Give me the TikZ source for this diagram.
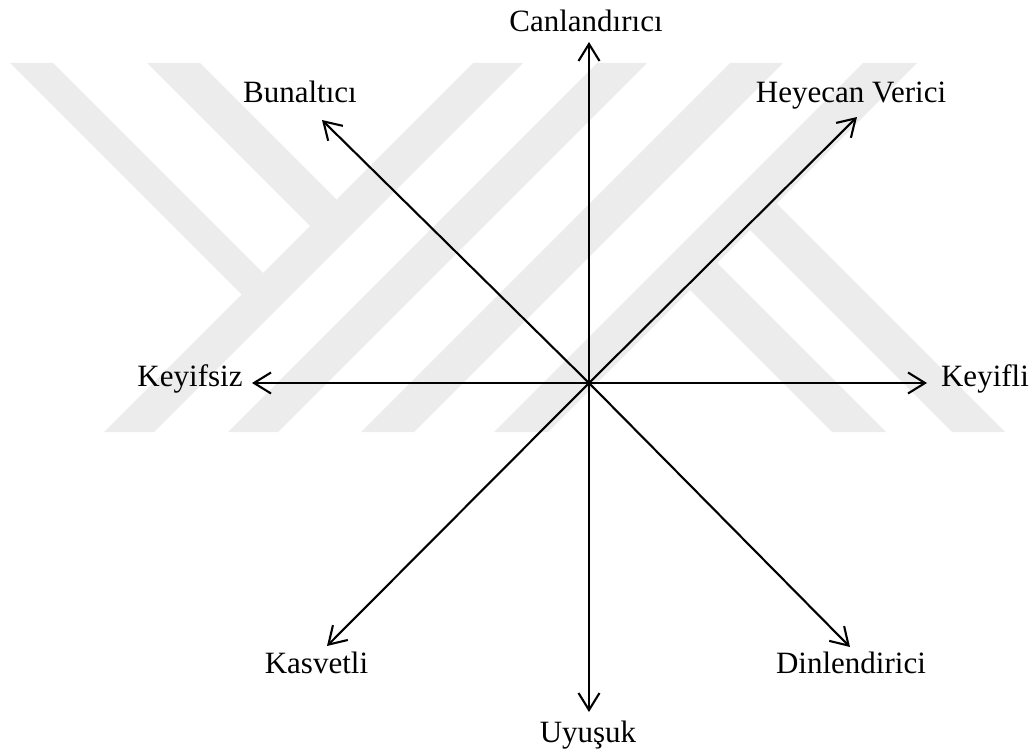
\documentclass[tikz,border=0pt]{standalone}
\usepackage{fontspec}
\setmainfont{Liberation Serif}
\usetikzlibrary{arrows.meta}
\definecolor{wm}{RGB}{236,236,236}
\tikzset{
  lbl/.style={anchor=base, inner sep=0pt, font=\fontsize{31}{37}\selectfont},
  axis/.style={line width=2.1pt, -{Straight Barb[length=17pt,width=21pt,line width=2.1pt]}},
  band/.style={fill=wm, draw=none}
}
\begin{document}
\begin{tikzpicture}[x=1pt,y=-1pt]
\useasboundingbox (0,0) rectangle (1032,754);
% watermark
\fill[band] (10,63) -- (53,63) -- (275,285) -- (253.5,306.5) -- cycle;
\fill[band] (147,63) -- (200,63) -- (348.5,211.5) -- (322,238) -- cycle;
\fill[band] (473,63) -- (523,63) -- (154,432) -- (104,432) -- cycle;
\fill[band] (597,63) -- (647,63) -- (278,432) -- (228,432) -- cycle;
\fill[band] (730,63) -- (783,63) -- (414,432) -- (361,432) -- cycle;
\fill[band] (863,63) -- (917,63) -- (548,432) -- (494,432) -- cycle;
\fill[band] (736.5,216.5) -- (763,190) -- (1005,432) -- (952,432) -- cycle;
\fill[band] (676.5,276.5) -- (703.5,249.5) -- (886,432) -- (832,432) -- cycle;
% axes
\coordinate (c) at (589,383);
\coordinate (tN) at (589,42);
\coordinate (tS) at (589,712);
\coordinate (tW) at (252,383);
\coordinate (tE) at (927,383);
\coordinate (tNW) at (322,120);
\coordinate (tNE) at (857,117);
\coordinate (tSW) at (327,646);
\coordinate (tSE) at (850,647);
\draw[axis] (c) -- (tN);
\draw[axis] (c) -- (tS);
\draw[axis] (c) -- (tW);
\draw[axis] (c) -- (tE);
\draw[axis] (c) -- (tNW);
\draw[axis] (c) -- (tNE);
\draw[axis] (c) -- (tSW);
\draw[axis] (c) -- (tSE);
% labels
\node[lbl] (lN) at (586,32) {Canlandırıcı};
\node[lbl] (lNW) at (300,103) {Bunaltıcı};
\node[lbl] (lNE) at (851,103) {Heyecan Verici};
\node[lbl] (lW) at (190,386) {Keyifsiz};
\node[lbl] (lE) at (985,386) {Keyifli};
\node[lbl] (lSW) at (316.5,673) {Kasvetli};
\node[lbl] (lSE) at (851,673) {Dinlendirici};
\node[lbl] (lS) at (588,742) {Uyuşuk};
\end{tikzpicture}
\end{document}
